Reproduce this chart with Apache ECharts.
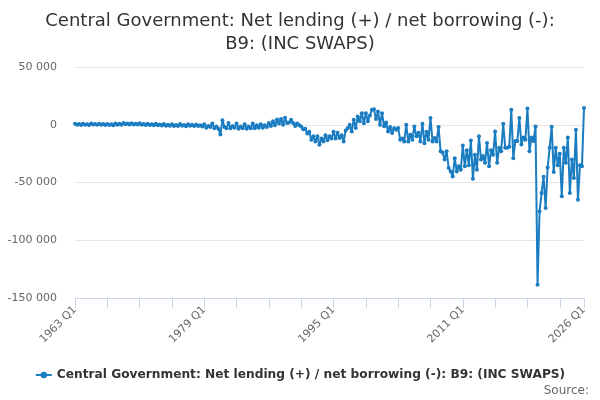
<!DOCTYPE html>
<html>
<head>
<meta charset="utf-8">
<script src="https://cdn.jsdelivr.net/npm/echarts@6/dist/echarts.min.js"></script>
<style>
html,body{margin:0;padding:0;background:#fff;}
#c{width:600px;height:400px;}
</style>
</head>
<body>
<div id="c"></div>
<script>
// Categories: quarterly from 1963 Q1 to 2026 Q1
const startYear = 1963;
const endYear = 2026;
const categories = [];
for (let y = startYear; y <= endYear; y++) {
  for (let q = 1; q <= 4; q++) {
    if (y === endYear && q > 1) break;
    categories.push(y + ' Q' + q);
  }
}

// Values, £ million
const v1963_1978 = [
  900, 100, 600, -200, 800, 0, 500, -300, 1000, 200, 700, -100, 800, -100, 600, -300,
  700, -300, 400, -500, 1100, 100, 800, 0, 1500, 400, 1000, 300, 1400, 300, 900, 200,
  1200, 0, 700, -200, 900, -300, 400, -500, 800, -500, 200, -700, 700, -800, 0, -900,
  500, -1000, -300, -1100, 600, -900, -200, -1200, 500, -800, -100, -1000, 300, -1100, -400, -1500
];
const v1979_1986 = [
  500, -2500, -1000, -2000, 1000, -3000, -1500, -3500, -8500, 4000, -2000, -3000,
  1500, -3000, -1000, -2500, 1000, -3500, -1500, -3000, 500, -3500, -1500, -3000,
  1000, -3000, -500, -2500, 500, -2500, -500, -2000
];
const v1987_1994 = [
  1500, -1000, 3000, -500, 4500, 1000, 5000, 0, 6000, 1500, 2000, 4300,
  1500, -1000, 1000, -500, -1500, -4000, -3500, -7500, -6000, -13000, -10000, -14500,
  -10000, -17300, -12000, -14400, -9000, -13500, -10000, -12000
];
const v1995_2002 = [
  -6000, -12000, -7000, -11500, -9000, -14400, -5000, -3000, 0, -5800, 4300, -2900,
  7200, 3000, 10000, 1400, 10000, 3000, 8000, 13000, 13500, 5000, 11500, 0,
  10000, -1400, 2000, -5800, -2000, -7200, -3000, -4300
];
const v2003_2010 = [
  -2900, -13000, -12000, -14400, 0, -14400, -8600, -13000, -1500, -10000, -7000, -14400,
  900, -16000, -6000, -13000, 5800, -14400, -11500, -14400, -2000, -23000, -24000, -30000,
  -23000, -37500, -40400, -44700, -29000, -40400, -36000, -39000
];
const v2011_2019 = [
  -18000, -36000, -22000, -35000, -13600, -46800, -26000, -39000, -10000, -30000, -27000, -33000,
  -15900, -36000, -22000, -26000, -5800, -33000, -20000, -23000, 900, -20000, -20000, -19000,
  13000, -28900, -14000, -14000, 5800, -17000, -11000, -13000, 14000, -23000, -11000, -14000
];
const v2020_2026 = [
  -1500, -138500, -75000, -59000, -45000, -72000, -37000, -20000,
  -1700, -41000, -20000, -35000, -25000, -62000, -20000, -33000,
  -11000, -59000, -30000, -46000, -4300, -65000, -35000, -36000, 14500
];
const values = [].concat(v1963_1978, v1979_1986, v1987_1994, v1995_2002, v2003_2010, v2011_2019, v2020_2026);

const yTicks = { min: -150000, max: 50000, interval: 50000 };
const xLabelIdx = [0, 64, 128, 192, 252];
const xTickIdx = [0, 16, 32, 48, 64, 80, 96, 112, 128, 144, 160, 176, 192, 208, 224, 240, 252];
const titleText = 'Central Government: Net lending (+) / net borrowing (-):\nB9: (INC SWAPS)';
const seriesName = 'Central Government: Net lending (+) / net borrowing (-): B9: (INC SWAPS)';

function fmt(v) {
  const s = String(Math.abs(v)).replace(/\B(?=(\d{3})+(?!\d))/g, ' ');
  return (v < 0 ? '-' : '') + s;
}

const chart = echarts.init(document.getElementById('c'), null, { renderer: 'canvas' });
chart.setOption({
  animation: false,
  backgroundColor: '#ffffff',
  textStyle: { fontFamily: 'DejaVu Sans' },
  title: {
    text: titleText,
    left: 'center',
    top: 5,
    textStyle: { fontFamily: 'DejaVu Sans', fontSize: 18, fontWeight: 'normal', color: '#333333', lineHeight: 23 }
  },
  legend: {
    bottom: 14,
    left: 'center',
    itemWidth: 16,
    itemHeight: 8,
    itemGap: 5,
    textStyle: { fontFamily: 'DejaVu Sans', fontSize: 12.2, fontWeight: 'bold', color: '#333333' },
    data: [seriesName]
  },
  graphic: [{
    type: 'text',
    right: 11,
    bottom: 3,
    style: { text: 'Source:', fill: '#666666', font: '12px "DejaVu Sans"' }
  }],
  grid: { left: 75, right: 16, top: 67, bottom: 102, containLabel: false },
  xAxis: {
    type: 'category',
    data: categories,
    boundaryGap: false,
    axisLine: { show: true, onZero: false, lineStyle: { color: '#ccd6eb', width: 1 } },
    axisTick: {
      show: true,
      length: 10,
      lineStyle: { color: '#ccd6eb', width: 1 },
      customValues: xTickIdx
    },
    axisLabel: {
      rotate: 45,
      color: '#666666',
      fontSize: 11,
      fontFamily: 'DejaVu Sans',
      margin: 10,
      customValues: xLabelIdx
    },
    splitLine: { show: false }
  },
  yAxis: {
    type: 'value',
    min: yTicks.min,
    max: yTicks.max,
    interval: yTicks.interval,
    axisLine: { show: false },
    axisTick: { show: false },
    axisLabel: { color: '#666666', fontSize: 11, fontFamily: 'DejaVu Sans', margin: 18, formatter: fmt },
    splitLine: { show: true, lineStyle: { color: '#e6e6e6', width: 1 } }
  },
  series: [{
    name: seriesName,
    type: 'line',
    data: values,
    symbol: 'circle',
    symbolSize: 4,
    showAllSymbol: true,
    itemStyle: { color: '#1a7cc1' },
    lineStyle: { color: '#1a7cc1', width: 2 }
  }]
});
</script>
</body>
</html>
